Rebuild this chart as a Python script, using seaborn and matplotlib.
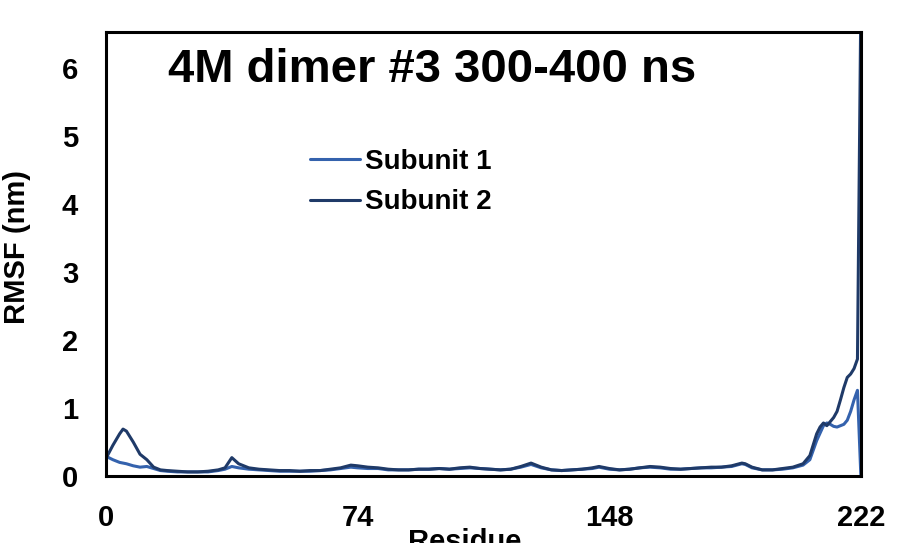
import numpy as np
import pandas as pd
import matplotlib
matplotlib.use("Agg")
import matplotlib.pyplot as plt
import seaborn as sns

residue = [0, 2, 4, 5, 6, 8, 10, 12, 14, 16, 18, 21, 24, 27, 30, 33, 35, 37, 39, 42,
           45, 48, 51, 54, 57, 60, 63, 66, 69, 72, 74, 77, 80, 83, 86, 89, 92, 95, 98, 101,
           104, 107, 110, 113, 116, 119, 122, 125, 128, 131, 134, 137, 140, 143, 145, 148, 151, 154, 157, 160,
           163, 166, 169, 172, 175, 178, 181, 184, 187, 188, 190, 193, 196, 199, 202, 205, 207, 209, 210, 211,
           212, 213, 214, 215, 216, 217, 218, 219, 220, 221, 222]

subunit2 = [0.26, 0.45, 0.62, 0.69, 0.66, 0.50, 0.32, 0.24, 0.13, 0.09, 0.08, 0.07, 0.06, 0.06, 0.07, 0.09, 0.12, 0.27, 0.18, 0.12,
            0.10, 0.09, 0.08, 0.08, 0.07, 0.08, 0.08, 0.10, 0.12, 0.16, 0.15, 0.13, 0.12, 0.10, 0.09, 0.09, 0.10, 0.10, 0.11, 0.10,
            0.12, 0.13, 0.11, 0.10, 0.09, 0.10, 0.14, 0.19, 0.13, 0.09, 0.08, 0.09, 0.10, 0.12, 0.14, 0.11, 0.09, 0.10, 0.12, 0.14,
            0.13, 0.11, 0.10, 0.11, 0.12, 0.13, 0.13, 0.15, 0.19, 0.18, 0.13, 0.09, 0.09, 0.11, 0.13, 0.18, 0.30, 0.62, 0.72, 0.78,
            0.74, 0.80, 0.86, 0.95, 1.12, 1.30, 1.45, 1.50, 1.58, 1.72, 7.00]

subunit1 = [0.29, 0.24, 0.20, 0.19, 0.18, 0.15, 0.13, 0.14, 0.11, 0.08, 0.07, 0.06, 0.06, 0.06, 0.06, 0.08, 0.10, 0.14, 0.12, 0.10,
            0.09, 0.08, 0.07, 0.07, 0.07, 0.07, 0.08, 0.09, 0.11, 0.13, 0.12, 0.11, 0.11, 0.09, 0.09, 0.09, 0.10, 0.10, 0.11, 0.10,
            0.11, 0.12, 0.11, 0.10, 0.09, 0.10, 0.13, 0.17, 0.12, 0.09, 0.08, 0.09, 0.10, 0.11, 0.13, 0.10, 0.09, 0.10, 0.12, 0.13,
            0.12, 0.10, 0.10, 0.11, 0.12, 0.12, 0.13, 0.14, 0.18, 0.17, 0.12, 0.09, 0.09, 0.10, 0.12, 0.16, 0.24, 0.52, 0.63, 0.74,
            0.78, 0.76, 0.73, 0.72, 0.74, 0.76, 0.82, 0.95, 1.12, 1.26, 0.00]

series_names = ["Subunit 1", "Subunit 2"]
series_colors = ["#3462ad", "#1f3a68"]
x_ticks = [0, 74, 148, 222]
y_ticks = [0, 1, 2, 3, 4, 5, 6]
title_text = "4M dimer #3 300-400 ns"

df = pd.DataFrame({
    "Residue": residue * 2,
    "RMSF": subunit1 + subunit2,
    "Series": [series_names[0]] * len(residue) + [series_names[1]] * len(residue),
})

sns.set_theme(style="white")
plt.rcParams["font.family"] = ["Liberation Sans", "DejaVu Sans"]
plt.rcParams["text.color"] = "black"
plt.rcParams["axes.labelcolor"] = "black"
plt.rcParams["xtick.color"] = "black"
plt.rcParams["ytick.color"] = "black"

fig = plt.figure(figsize=(9.10, 5.43), dpi=100)
ax = fig.add_axes([0.1165, 0.1234, 0.8295, 0.8176])

sns.lineplot(data=df, x="Residue", y="RMSF", hue="Series", palette=series_colors,
             hue_order=series_names, linewidth=2.2, ax=ax, legend=False)

ax.set_xlim(0, 222)
ax.set_ylim(0, 6.53)
ax.set_xticks(x_ticks)
ax.set_yticks(y_ticks)
ax.tick_params(axis="both", length=0, labelsize=21, pad=20, colors="black")
for lab in ax.get_xticklabels() + ax.get_yticklabels():
    lab.set_fontweight("bold")
ax.set_xlabel("Residue", fontsize=21, fontweight="bold")
ax.xaxis.set_label_coords(0.4755, -0.118)
ax.set_ylabel("RMSF (nm)", fontsize=21, fontweight="bold")
ax.yaxis.set_label_coords(-0.099, 0.516)

for side, sp in ax.spines.items():
    sp.set_visible(True)
    sp.set_color("black")
    sp.set_linewidth(2.2)

ax.text(0.432, 0.914, title_text, transform=ax.transAxes, ha="center", va="center",
        fontsize=34, fontweight="bold", color="black")

handles = [plt.Line2D([], [], color=c, linewidth=2.2) for c in series_colors]
leg = ax.legend(handles, series_names, loc="upper left", bbox_to_anchor=(0.27, 0.737),
                frameon=False, fontsize=20, handlelength=1.8, handletextpad=0.2,
                labelspacing=0.52, borderpad=0, borderaxespad=0)
for t in leg.get_texts():
    t.set_fontweight("bold")
    t.set_color("black")

fig.savefig("out.png", dpi=100)
